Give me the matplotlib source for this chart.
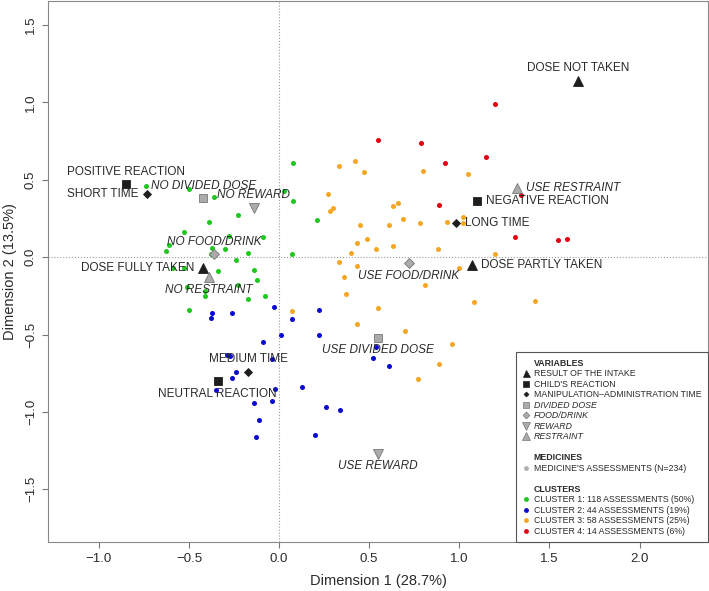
import matplotlib
matplotlib.use("Agg")
import matplotlib.pyplot as plt
from matplotlib.lines import Line2D

plt.rcParams['font.family'] = ['Liberation Sans', 'DejaVu Sans']

# Medicine assessments, one array pair per cluster
c1_x = [-0.74, -0.50, -0.36, 0.03, -0.23, -0.39, -0.53, -0.28, -0.09, -0.61,
        -0.63, -0.37, -0.30, -0.17, -0.38, -0.24, -0.59, -0.53, -0.34, -0.14,
        -0.12, -0.51, -0.41, -0.41, -0.23, -0.17, -0.08, 0.08, 0.08, 0.21,
        0.07, -0.50]
c1_y = [0.46, 0.44, 0.39, 0.43, 0.27, 0.23, 0.16, 0.14, 0.13, 0.08,
        0.04, 0.06, 0.05, 0.03, 0.02, -0.02, -0.07, -0.07, -0.09, -0.08,
        -0.15, -0.19, -0.22, -0.25, -0.18, -0.27, -0.25, 0.61, 0.36, 0.24,
        0.02, -0.34]

c2_x = [-0.03, -0.37, -0.26, -0.38, -0.09, -0.29, -0.27, -0.04, -0.24, -0.26,
        -0.35, -0.02, -0.14, -0.04, -0.11, -0.13, 0.22, 0.07, 0.01, 0.22,
        0.13, 0.26, 0.34, 0.20, 0.54, 0.52, 0.61]
c2_y = [-0.32, -0.36, -0.36, -0.39, -0.55, -0.63, -0.64, -0.66, -0.74, -0.78,
        -0.86, -0.85, -0.94, -0.93, -1.05, -1.16, -0.34, -0.40, -0.50, -0.50,
        -0.84, -0.97, -0.99, -1.15, -0.58, -0.65, -0.70]

c3_x = [0.33, 0.42, 0.47, 0.80, 1.05, 0.27, 0.30, 0.28, 0.63, 0.66,
        0.69, 1.02, 1.02, 0.93, 0.78, 0.61, 0.45, 0.49, 0.43, 0.63,
        0.54, 0.88, 0.40, 1.20, 0.33, 0.43, 1.00, 0.36, 0.81, 0.37,
        1.08, 1.42, 0.07, 0.55, 0.43, 0.70, 0.96, 0.89, 0.77]
c3_y = [0.59, 0.62, 0.55, 0.56, 0.54, 0.41, 0.32, 0.30, 0.33, 0.35,
        0.25, 0.26, 0.22, 0.23, 0.22, 0.21, 0.21, 0.12, 0.09, 0.07,
        0.05, 0.05, 0.03, 0.02, -0.03, -0.06, -0.07, -0.13, -0.18, -0.24,
        -0.29, -0.28, -0.35, -0.33, -0.43, -0.48, -0.56, -0.69, -0.79]

c4_x = [1.20, 0.55, 0.79, 0.92, 1.15, 1.34, 0.89, 1.31, 1.55, 1.60]
c4_y = [0.99, 0.76, 0.74, 0.61, 0.65, 0.40, 0.34, 0.13, 0.11, 0.12]

# Supplementary categories
cat_names = ['DOSE NOT TAKEN', 'DOSE FULLY TAKEN', 'DOSE PARTLY TAKEN',
             'POSITIVE REACTION', 'NEGATIVE REACTION', 'NEUTRAL REACTION',
             'SHORT TIME', 'MEDIUM TIME', 'LONG TIME',
             'NO DIVIDED DOSE', 'USE DIVIDED DOSE',
             'NO FOOD/DRINK', 'USE FOOD/DRINK',
             'NO REWARD', 'USE REWARD',
             'NO RESTRAINT', 'USE RESTRAINT']
cat_x = [1.66, -0.42, 1.07, -0.85, 1.10, -0.34, -0.73, -0.17, 0.98,
         -0.42, 0.55, -0.36, 0.72, -0.14, 0.55, -0.39, 1.32]
cat_y = [1.14, -0.07, -0.05, 0.47, 0.36, -0.80, 0.41, -0.74, 0.22,
         0.38, -0.52, 0.02, -0.04, 0.32, -1.27, -0.13, 0.45]
cat_var = ['result', 'result', 'result', 'reaction', 'reaction', 'reaction',
           'time', 'time', 'time', 'divided', 'divided', 'food', 'food',
           'reward', 'reward', 'restraint', 'restraint']
# R-style text position: 1 below, 2 left, 3 above, 4 right
cat_pos = [3, 2, 4, 3, 4, 1, 2, 3, 4, 3, 1, 3, 1, 3, 1, 1, 4]

legend_vars = ['RESULT OF THE INTAKE', "CHILD'S REACTION",
               'MANIPULATION\u2013ADMINISTRATION TIME', 'DIVIDED DOSE',
               'FOOD/DRINK', 'REWARD', 'RESTRAINT']
cluster_labels = ['CLUSTER 1: 118 ASSESSMENTS (50%)',
                  'CLUSTER 2: 44 ASSESSMENTS (19%)',
                  'CLUSTER 3: 58 ASSESSMENTS (25%)',
                  'CLUSTER 4: 14 ASSESSMENTS (6%)']

GREEN, BLUE, ORANGE, RED = '#1ec81e', '#0a0ad2', '#f5a623', '#e4000f'
DARK, GREY, GREY_EDGE = '#1e1e1e', '#ababab', '#777777'
TXT = '#2a2a2a'

styles = {
    'result': dict(marker='^', ms=7.2, mfc=DARK, mec=DARK),
    'reaction': dict(marker='s', ms=5.3, mfc=DARK, mec=DARK),
    'time': dict(marker='D', ms=3.6, mfc=DARK, mec=DARK),
    'divided': dict(marker='s', ms=5.3, mfc=GREY, mec=GREY_EDGE),
    'food': dict(marker='D', ms=5.0, mfc=GREY, mec=GREY_EDGE),
    'reward': dict(marker='v', ms=7.8, mfc=GREY, mec=GREY_EDGE),
    'restraint': dict(marker='^', ms=7.6, mfc=GREY, mec=GREY_EDGE),
}

fig = plt.figure(figsize=(7.09, 5.91), dpi=100)
ax = fig.add_axes([0.0677, 0.0824, 0.9309, 0.9166])

ax.axhline(0, color='#9a9a9a', lw=0.8, ls=':', zorder=1)
ax.axvline(0, color='#9a9a9a', lw=0.8, ls=':', zorder=1)

for xs, ys, col in [(c1_x, c1_y, GREEN), (c2_x, c2_y, BLUE),
                    (c3_x, c3_y, ORANGE), (c4_x, c4_y, RED)]:
    ax.scatter(xs, ys, s=13, color=col, linewidths=0, zorder=2)

offsets = {1: (0, -9, 'center', 'center'), 2: (-6.5, 0, 'right', 'center'),
           3: (0, 9, 'center', 'center'), 4: (6.5, 0, 'left', 'center')}
for name, x, y, var, pos in zip(cat_names, cat_x, cat_y, cat_var, cat_pos):
    st = styles[var]
    ax.plot([x], [y], ls='none', marker=st['marker'], ms=st['ms'],
            mfc=st['mfc'], mec=st['mec'], mew=0.6, zorder=3)
    dx, dy, ha, va = offsets[pos]
    italic = var in ('divided', 'food', 'reward', 'restraint')
    ax.annotate(name, (x, y), xytext=(dx, dy), textcoords='offset points',
                ha=ha, va=va, fontsize=8.5, color=TXT,
                style='italic' if italic else 'normal', zorder=4)

ax.set_xlim(-1.282, 2.38)
ax.set_ylim(-1.842, 1.658)
ax.set_xticks([-1.0, -0.5, 0.0, 0.5, 1.0, 1.5, 2.0])
ax.set_yticks([-1.5, -1.0, -0.5, 0.0, 0.5, 1.0, 1.5])
ax.tick_params(direction='out', length=4, width=0.8, colors='#777777',
               labelcolor=TXT, labelsize=9.5, pad=4)
for lab in ax.get_yticklabels():
    lab.set_rotation(90)
    lab.set_va('center')
for sp in ax.spines.values():
    sp.set_color('#888888')
    sp.set_linewidth(0.8)
ax.set_xlabel('Dimension 1 (28.7%)', fontsize=10.5, color=TXT, labelpad=6)
ax.set_ylabel('Dimension 2 (13.5%)', fontsize=10.5, color=TXT, labelpad=6)

# Legend
def blank(label):
    return Line2D([], [], ls='none', marker=None, label=label)

handles = [blank('VARIABLES')]
for var, lab in zip(['result', 'reaction', 'time', 'divided', 'food',
                     'reward', 'restraint'], legend_vars):
    st = styles[var]
    handles.append(Line2D([], [], ls='none', marker=st['marker'],
                          ms=st['ms'] * 0.7, mfc=st['mfc'], mec=st['mec'],
                          mew=0.5, label=lab))
handles += [blank(' '), blank('MEDICINES'),
            Line2D([], [], ls='none', marker='o', ms=3.5, mfc='#b0b0b0',
                   mec='none', label="MEDICINE'S ASSESSMENTS (N=234)"),
            blank(' '), blank('CLUSTERS')]
for col, lab in zip([GREEN, BLUE, ORANGE, RED], cluster_labels):
    handles.append(Line2D([], [], ls='none', marker='o', ms=3.5, mfc=col,
                          mec='none', label=lab))

leg = ax.legend(handles=handles, loc='lower right', bbox_to_anchor=(1, 0),
                borderaxespad=0, fancybox=False, framealpha=1,
                edgecolor='#555555', fontsize=6.3, handlelength=0.8,
                handletextpad=0.5, labelspacing=0.17, borderpad=0.75)
leg.get_frame().set_linewidth(0.8)
for t in leg.get_texts():
    t.set_color(TXT)
    if t.get_text() in ('VARIABLES', 'MEDICINES', 'CLUSTERS'):
        t.set_fontweight('bold')
    if t.get_text() in legend_vars[3:]:
        t.set_fontstyle('italic')

fig.savefig('out.png', dpi=100)
